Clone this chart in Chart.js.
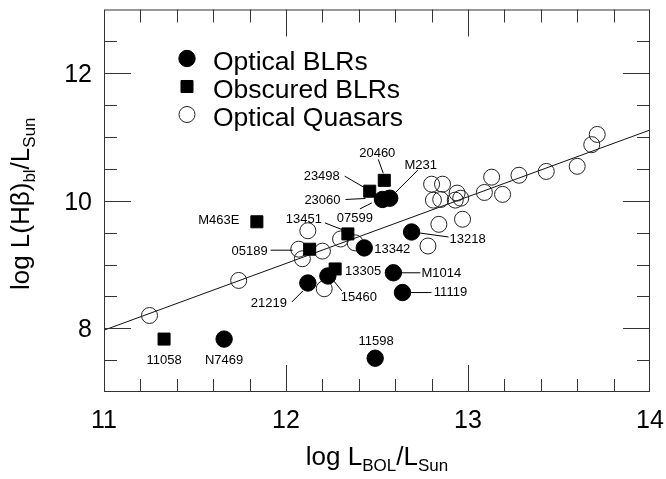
<!DOCTYPE html>
<html><head><meta charset="utf-8">
<script src="https://cdn.jsdelivr.net/npm/chart.js@4.4.0/dist/chart.umd.min.js"></script>
<style>html,body{margin:0;padding:0;background:#fff;}#wrap{width:666px;height:479px;}</style>
</head><body><div id="wrap"><canvas id="c" width="666" height="479"></canvas></div>
<script>
// ---- data ----
const blrX = [11.66, 12.12, 12.23, 12.43, 12.69, 12.59, 12.64, 12.49, 12.53, 12.57];
const blrY = [7.83, 8.71, 8.82, 9.26, 9.51, 8.87, 8.56, 7.53, 10.02, 10.04];
const obsX = [11.33, 11.84, 12.13, 12.34, 12.27, 12.46, 12.54];
const obsY = [7.83, 9.67, 9.24, 9.48, 8.93, 10.15, 10.32];
const qsoX = [11.25, 11.74, 12.07, 12.09, 12.12, 12.20, 12.30, 12.38, 12.21, 12.80, 12.86, 12.81, 12.85, 12.94,
              12.96, 12.93, 13.09, 13.13, 13.19, 13.28, 13.43, 13.60, 13.68, 13.71, 12.84, 12.97, 12.78];
const qsoY = [8.20, 8.75, 9.24, 9.09, 9.53, 9.21, 9.40, 9.34, 8.62, 10.26, 10.26, 10.01, 10.02, 10.12,
              10.04, 10.01, 10.13, 10.37, 10.10, 10.40, 10.46, 10.54, 10.88, 11.04, 9.63, 9.71, 9.29];
const fitX = [11, 14];
const fitY = [7.97, 11.11];
const seriesNames = ['Optical BLRs', 'Obscured BLRs', 'Optical Quasars'];
const xTickLabels = [11, 12, 13, 14];
const yTickLabels = [8, 10, 12];

// ---- point annotations: text, series, index, text offset, leader line (px offsets) ----
const notes = [
  {t:'20460', s:'obs', i:6, dx:-7,  dy:-27, ln:[-6,-21,-1,-7]},
  {t:'M231',  s:'blr', i:9, dx:31,  dy:-33, ln:[28,-28,6,-6]},
  {t:'23498', s:'obs', i:5, dx:-48, dy:-15, ln:[-25,-15,-6,-4]},
  {t:'23060', s:'blr', i:8, dx:-60, dy:1,   ln:[-37,0,-17,-1]},
  {t:'07599', s:'obs', i:3, dx:7,   dy:-15, ln:[12,-25,24,-31]},
  {t:'13451', s:'obs', i:3, dx:-44, dy:-14, ln:[-23,-11,-5,-4]},
  {t:'M463E', s:'obs', i:1, dx:-38, dy:-1},
  {t:'05189', s:'obs', i:2, dx:-60, dy:2,   ln:[-39,1,-17,1]},
  {t:'13342', s:'blr', i:3, dx:28,  dy:1},
  {t:'13218', s:'blr', i:4, dx:56,  dy:7,   ln:[8,1,37,5]},
  {t:'13305', s:'obs', i:4, dx:28,  dy:2},
  {t:'M1014', s:'blr', i:5, dx:48,  dy:1,   ln:[8,0,27,0]},
  {t:'15460', s:'blr', i:2, dx:31,  dy:21,  ln:[6,5,14,15]},
  {t:'11119', s:'blr', i:6, dx:48,  dy:0,   ln:[8,0,29,0]},
  {t:'21219', s:'blr', i:1, dx:-39, dy:20,  ln:[-16,19,-5,8]},
  {t:'11598', s:'blr', i:7, dx:1,   dy:-17},
  {t:'11058', s:'obs', i:0, dx:0,   dy:21},
  {t:'N7469', s:'blr', i:0, dx:0,   dy:21}
];

const pts = (xs, ys) => xs.map((x, k) => ({x: x, y: ys[k]}));
const FONT = '"Liberation Sans", Arial, Helvetica, sans-serif';

const decor = {
  id: 'decor',
  afterDraw(chart) {
    const ctx = chart.ctx, a = chart.chartArea;
    const xs = chart.scales.x, ys = chart.scales.y;
    ctx.save();
    // frame
    ctx.strokeStyle = '#333'; ctx.lineWidth = 1;
    ctx.strokeRect(a.left + 0.5, a.top + 0.5, a.right - a.left - 1, a.bottom - a.top - 1);
    // x ticks (inward, top & bottom)
    ctx.beginPath();
    for (let k = 1; k < 15; k++) {
      const v = xs.min + k * 0.2;
      const px = Math.round(xs.getPixelForValue(v)) + 0.5;
      const major = xTickLabels.some(t => Math.abs(t - v) < 1e-6);
      const len = major ? 27 : 13;
      ctx.moveTo(px, a.bottom); ctx.lineTo(px, a.bottom - len);
      ctx.moveTo(px, a.top); ctx.lineTo(px, a.top + len);
    }
    // y ticks (inward, left & right)
    for (let k = 1; k < 12; k++) {
      const v = ys.min + k * 0.5;
      const py = Math.round(ys.getPixelForValue(v)) + 0.5;
      const major = yTickLabels.some(t => Math.abs(t - v) < 1e-6);
      const len = major ? 27 : 13;
      ctx.moveTo(a.left, py); ctx.lineTo(a.left + len, py);
      ctx.moveTo(a.right, py); ctx.lineTo(a.right - len, py);
    }
    ctx.stroke();

    // tick labels
    ctx.fillStyle = '#000';
    ctx.font = '25px ' + FONT;
    ctx.textBaseline = 'alphabetic';
    ctx.textAlign = 'center';
    xTickLabels.forEach(v => ctx.fillText(String(v), xs.getPixelForValue(v), a.bottom + 36));
    ctx.textAlign = 'right';
    yTickLabels.forEach(v => ctx.fillText(String(v), a.left - 12, ys.getPixelForValue(v) + 9));

    // axis titles (with subscripts)
    const drawParts = (parts, cx, baseY) => {
      let total = 0;
      parts.forEach(p => { ctx.font = p[1] + 'px ' + FONT; p.w = ctx.measureText(p[0]).width; total += p.w; });
      let x = cx - total / 2;
      ctx.textAlign = 'left';
      parts.forEach(p => { ctx.font = p[1] + 'px ' + FONT; ctx.fillText(p[0], x, baseY + p[2]); x += p.w; });
    };
    drawParts([['log L', 26, 0], ['BOL', 17, 6], ['/L', 26, 0], ['Sun', 17, 6]], (a.left + a.right) / 2, 465);
    ctx.save();
    ctx.translate(29, (a.top + a.bottom) / 2 + 3);
    ctx.rotate(-Math.PI / 2);
    drawParts([['log L(H\u03B2)', 26, 0], ['bl', 17, 6], ['/L', 26, 0], ['Sun', 17, 6]], 0, 0);
    ctx.restore();

    // point annotations
    const sets = {blr: [blrX, blrY], obs: [obsX, obsY]};
    ctx.font = '13px ' + FONT;
    ctx.textAlign = 'center'; ctx.textBaseline = 'middle';
    ctx.strokeStyle = '#000'; ctx.lineWidth = 1;
    notes.forEach(n => {
      const px = xs.getPixelForValue(sets[n.s][0][n.i]);
      const py = ys.getPixelForValue(sets[n.s][1][n.i]);
      ctx.fillText(n.t, px + n.dx, py + n.dy);
      if (n.ln) {
        ctx.beginPath();
        ctx.moveTo(px + n.ln[0], py + n.ln[1]);
        ctx.lineTo(px + n.ln[2], py + n.ln[3]);
        ctx.stroke();
      }
    });

    // legend
    const ds = chart.data.datasets;
    ctx.textBaseline = 'alphabetic';
    [0, 1, 2].forEach(k => {
      const d = ds[k];
      const mx = a.left + 83, my = a.top + 49 + 28 * k;
      ctx.fillStyle = d.backgroundColor; ctx.strokeStyle = d.borderColor; ctx.lineWidth = d.borderWidth;
      Chart.helpers.drawPoint(ctx, {
        pointStyle: d.pointStyle, radius: d.pointRadius, rotation: 0, borderWidth: d.borderWidth
      }, mx, my);
      ctx.fillStyle = '#000';
      ctx.font = '26.5px ' + FONT;
      ctx.textAlign = 'left';
      ctx.fillText(d.label, a.left + 109, my + 11);
    });
    ctx.restore();
  }
};

new Chart(document.getElementById('c'), {
  type: 'scatter',
  data: {
    datasets: [
      {label: seriesNames[0], data: pts(blrX, blrY), pointStyle: 'circle', pointRadius: 8.2, borderWidth: 1,
       backgroundColor: '#000', borderColor: '#000', order: 1},
      {label: seriesNames[1], data: pts(obsX, obsY), pointStyle: 'rect', pointRadius: 8.5, borderWidth: 1,
       backgroundColor: '#000', borderColor: '#000', order: 2},
      {label: seriesNames[2], data: pts(qsoX, qsoY), pointStyle: 'circle', pointRadius: 8, borderWidth: 1,
       backgroundColor: 'rgba(0,0,0,0)', borderColor: '#222', order: 3},
      {label: 'fit', type: 'line', data: pts(fitX, fitY), showLine: true, pointRadius: 0, borderWidth: 1,
       borderColor: '#111', fill: false, order: 4}
    ]
  },
  options: {
    responsive: false, animation: false, events: [],
    layout: {padding: {left: 104, right: 16, top: 7, bottom: 87}},
    scales: {
      x: {type: 'linear', min: 11, max: 14, display: false},
      y: {type: 'linear', min: 7, max: 13, display: false}
    },
    plugins: {legend: {display: false}, tooltip: {enabled: false}}
  },
  plugins: [decor]
});
</script></body></html>
